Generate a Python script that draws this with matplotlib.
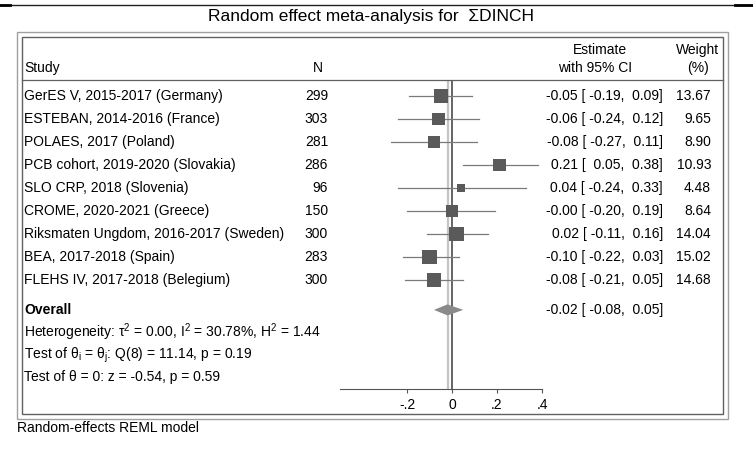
import matplotlib
matplotlib.use("Agg")
import matplotlib.pyplot as plt
from matplotlib.patches import Rectangle, Polygon
from matplotlib.lines import Line2D
from matplotlib.transforms import blended_transform_factory

plt.rcParams["font.family"] = ["Liberation Sans", "DejaVu Sans"]
plt.rcParams["mathtext.fontset"] = "custom"
plt.rcParams["mathtext.rm"] = "Liberation Sans"
plt.rcParams["mathtext.it"] = "Liberation Sans"

# study level results
studies = ["GerES V, 2015-2017 (Germany)", "ESTEBAN, 2014-2016 (France)",
           "POLAES, 2017 (Poland)", "PCB cohort, 2019-2020 (Slovakia)",
           "SLO CRP, 2018 (Slovenia)", "CROME, 2020-2021 (Greece)",
           "Riksmaten Ungdom, 2016-2017 (Sweden)", "BEA, 2017-2018 (Spain)",
           "FLEHS IV, 2017-2018 (Belegium)"]
n_obs = [299, 303, 281, 286, 96, 150, 300, 283, 300]
estimate = [-0.05, -0.06, -0.08, 0.21, 0.04, -0.00, 0.02, -0.10, -0.08]
ci_low = [-0.19, -0.24, -0.27, 0.05, -0.24, -0.20, -0.11, -0.22, -0.21]
ci_high = [0.09, 0.12, 0.11, 0.38, 0.33, 0.19, 0.16, 0.03, 0.05]
weight = [13.67, 9.65, 8.90, 10.93, 4.48, 8.64, 14.04, 15.02, 14.68]

# pooled estimate
overall_est, overall_lo, overall_hi = -0.02, -0.08, 0.05
stats_lines = [r"Heterogeneity: τ$^2$ = 0.00, I$^2$ = 30.78%, H$^2$ = 1.44",
               r"Test of θ$_\mathrm{i}$ = θ$_\mathrm{j}$: Q(8) = 11.14, p = 0.19",
               "Test of θ = 0: z = -0.54, p = 0.59"]
xticks = [-0.2, 0, 0.2, 0.4]
xticklabels = ["-.2", "0", ".2", ".4"]

W, H = 753, 462
fig = plt.figure(figsize=(W / 100, H / 100), dpi=100)

def fx(px):
    return px / W

def fy(py):
    return 1 - py / H

# forest panel: rows are indexed top to bottom, 23 px apart starting at 96 px
row0, step = 96, 23
top_px, bot_px = 80, 389
ax = fig.add_axes([fx(339.5), fy(bot_px), fx(542) - fx(339.5), fy(top_px) - fy(bot_px)])
ax.set_xlim(-0.5, 0.4)
ax.set_ylim((bot_px - row0) / step, (top_px - row0) / step)
ax.patch.set_visible(False)
for s in ["top", "left", "right"]:
    ax.spines[s].set_visible(False)
ax.spines["bottom"].set_color("#555555")
ax.spines["bottom"].set_linewidth(0.8)
ax.set_yticks([])
ax.set_xticks(xticks)
ax.set_xticklabels(xticklabels)
fs = 10
ax.tick_params(axis="x", length=3, width=0.8, color="#555555", labelsize=fs, pad=3.5)

rows = list(range(len(studies)))
overall_row = 9.3
stat_rows = [10.26, 11.26, 12.22]

ax.axvline(overall_est, color="#c4c4c4", lw=1.6, zorder=1)
ax.axvline(0, color="#4a4a4a", lw=1.2, zorder=2)

for k in rows:
    ax.plot([ci_low[k], ci_high[k]], [k, k], color="#7a7a7a", lw=0.9, zorder=3)
sizes = [(3.87 * w ** 0.5 * 0.72) ** 2 for w in weight]
ax.scatter(estimate, rows, s=sizes, marker="s", color="#5a5a5a", linewidths=0, zorder=4)

ax.add_patch(Polygon([(overall_lo, overall_row), (overall_est, overall_row - 0.24),
                      (overall_hi, overall_row), (overall_est, overall_row + 0.24)],
                     closed=True, facecolor="#8a8a8a", edgecolor="none", zorder=4))

# text columns share the row scale of the forest panel
tr = blended_transform_factory(fig.transFigure, ax.transData)
for k in rows:
    ax.text(fx(24), k, studies[k], transform=tr, fontsize=fs, va="center", ha="left")
    ax.text(fx(328), k, str(n_obs[k]), transform=tr, fontsize=fs, va="center", ha="right")
    ax.text(fx(663), k, f"{estimate[k]:.2f} [{ci_low[k]:6.2f}, {ci_high[k]:5.2f}]",
            transform=tr, fontsize=fs, va="center", ha="right")
    ax.text(fx(711), k, f"{weight[k]:.2f}", transform=tr, fontsize=fs, va="center", ha="right")

ax.text(fx(24), overall_row, "Overall", transform=tr, fontsize=fs, va="center",
        ha="left", fontweight="bold")
ax.text(fx(663), overall_row, f"{overall_est:.2f} [{overall_lo:6.2f}, {overall_hi:5.2f}]",
        transform=tr, fontsize=fs, va="center", ha="right")
for r, s in zip(stat_rows, stats_lines):
    ax.text(fx(24), r, s, transform=tr, fontsize=fs, va="center", ha="left")

# header
fig.text(fx(24), fy(68), "Study", fontsize=fs, va="center", ha="left")
fig.text(fx(318), fy(68), "N", fontsize=fs, va="center", ha="center")
fig.text(fx(600), fy(50), "Estimate", fontsize=fs, va="center", ha="center")
fig.text(fx(595), fy(68), "with 95% CI", fontsize=fs, va="center", ha="center")
fig.text(fx(719), fy(50), "Weight", fontsize=fs, va="center", ha="right")
fig.text(fx(698), fy(68), "(%)", fontsize=fs, va="center", ha="center")

fig.text(fx(371), fy(16), "Random effect meta-analysis for  ΣDINCH", fontsize=12.5,
         va="center", ha="center")
fig.text(fx(17), fy(428), "Random-effects REML model", fontsize=fs, va="center", ha="left")

# double frame, header rule and top rule
fig.add_artist(Rectangle((fx(17), fy(419)), fx(728) - fx(17), fy(32) - fy(419),
                         transform=fig.transFigure, fill=False, edgecolor="#a0a0a0", lw=1.0))
fig.add_artist(Rectangle((fx(22), fy(414)), fx(723) - fx(22), fy(37) - fy(414),
                         transform=fig.transFigure, fill=False, edgecolor="#606060", lw=1.0))
fig.add_artist(Line2D([fx(22), fx(723)], [fy(80), fy(80)], transform=fig.transFigure,
                      color="#606060", lw=0.9))
fig.add_artist(Line2D([0, 1], [fy(5), fy(5)], transform=fig.transFigure, color="#202020", lw=1.0))
fig.add_artist(Line2D([0, fx(10)], [fy(5), fy(5)], transform=fig.transFigure, color="black", lw=2.0))
fig.add_artist(Line2D([fx(735), 1], [fy(5), fy(5)], transform=fig.transFigure, color="black", lw=2.0))

fig.savefig("out.png", dpi=100)
